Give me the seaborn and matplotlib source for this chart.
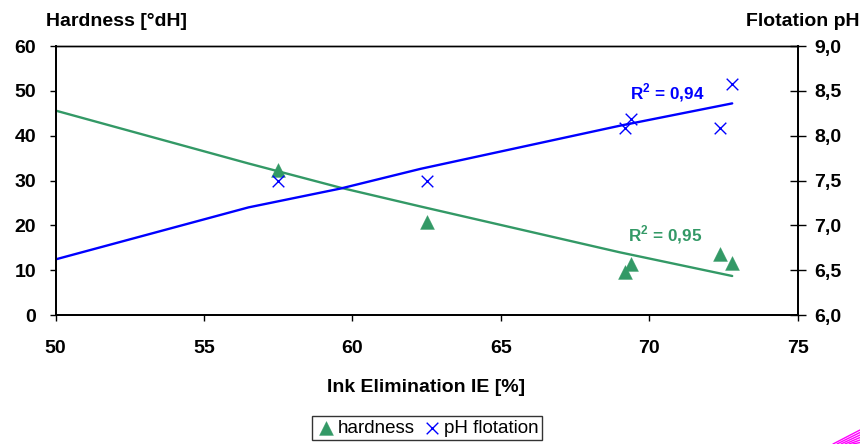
import matplotlib
matplotlib.use("Agg")
import matplotlib.pyplot as plt
import seaborn as sns
import pandas as pd
from matplotlib.ticker import FixedLocator, FixedFormatter
from matplotlib.lines import Line2D

# ---- data ----
ie_points = [57.5, 62.5, 69.2, 69.4, 72.4, 72.8]
hardness = [32.4, 20.7, 9.5, 11.3, 13.7, 11.6]
ie_ph = [57.5, 62.5, 69.2, 69.4, 72.4, 72.8]
ph_flotation = [7.5, 7.5, 8.09, 8.19, 8.09, 8.58]

trend_x = [50.0, 56.5, 59.6, 62.3, 69.0, 72.8]
hardness_trend = [45.6, 33.8, 28.4, 24.2, 14.0, 8.7]
ph_trend = [6.62, 7.20, 7.41, 7.63, 8.11, 8.36]

x_ticks = [50, 55, 60, 65, 70, 75]
left_ticks = [0, 10, 20, 30, 40, 50, 60]
right_ticks = [6.0, 6.5, 7.0, 7.5, 8.0, 8.5, 9.0]
right_labels = ["6,0", "6,5", "7,0", "7,5", "8,0", "8,5", "9,0"]

r2_hardness = "0,95"
r2_ph = "0,94"

GREEN = "#339966"
BLUE = "#0000FF"
FONT = 14

sns.set_theme(style="white")
plt.rcParams["font.family"] = ["Liberation Sans", "DejaVu Sans"]
plt.rcParams["text.color"] = "black"
plt.rcParams["axes.labelcolor"] = "black"
plt.rcParams["xtick.color"] = "black"
plt.rcParams["ytick.color"] = "black"
plt.rcParams["mathtext.fontset"] = "custom"
plt.rcParams["mathtext.rm"] = "Liberation Sans:bold"
plt.rcParams["mathtext.bf"] = "Liberation Sans:bold"

fig = plt.figure(figsize=(8.6, 4.44), dpi=100)
ax = fig.add_axes([55.5 / 860, 1 - 315 / 444, (797.5 - 55.5) / 860, (315 - 46) / 444])
ax2 = ax.twinx()

df_h = pd.DataFrame({"IE": ie_points, "hardness": hardness})
df_p = pd.DataFrame({"IE": ie_ph, "pH": ph_flotation})
df_t = pd.DataFrame({"IE": trend_x, "h": hardness_trend, "p": ph_trend})

sns.lineplot(data=df_t, x="IE", y="h", ax=ax, color=GREEN, linewidth=1.7, legend=False)
sns.scatterplot(data=df_h, x="IE", y="hardness", ax=ax, marker="^", s=100,
                color=GREEN, edgecolor=GREEN, linewidth=0.3, zorder=5, label="hardness")

sns.lineplot(data=df_t, x="IE", y="p", ax=ax2, color=BLUE, linewidth=1.7, legend=False)
sns.scatterplot(data=df_p, x="IE", y="pH", ax=ax2, marker="x", s=70,
                color=BLUE, linewidth=1.0, zorder=5, label="pH flotation")

ax.set_xlim(50, 75)
ax.set_ylim(0, 60)
ax2.set_ylim(6.0, 9.0)

ax.xaxis.set_major_locator(FixedLocator(x_ticks))
ax.yaxis.set_major_locator(FixedLocator(left_ticks))
ax2.yaxis.set_major_locator(FixedLocator(right_ticks))
ax2.yaxis.set_major_formatter(FixedFormatter(right_labels))

for a in (ax, ax2):
    for s in a.spines.values():
        s.set_color("black")
        s.set_linewidth(1.3)
ax2.spines["top"].set_linewidth(1.0)
ax.spines["top"].set_linewidth(1.0)

ax.tick_params(axis="x", direction="out", length=4, width=1, colors="black",
               labelsize=FONT, pad=14, bottom=True, top=False)
ax.tick_params(axis="y", direction="out", length=4.5, width=1, colors="black",
               labelsize=FONT, pad=9.5, left=True)
ax2.tick_params(axis="y", direction="inout", length=11, width=1, colors="black",
                labelsize=FONT, pad=6.5, right=True)
for lab in ax.get_xticklabels() + ax.get_yticklabels() + ax2.get_yticklabels():
    lab.set_fontweight("bold")

ax.set_xlabel("Ink Elimination IE [%]", fontsize=FONT, fontweight="bold", labelpad=16)
ax.set_ylabel("")
ax2.set_ylabel("")

fig.text(46 / 860, 1 - 21 / 444, "Hardness [°dH]", fontsize=FONT, fontweight="bold",
         ha="left", va="center")
fig.text(859 / 860, 1 - 21 / 444, "Flotation pH", fontsize=FONT, fontweight="bold",
         ha="right", va="center")

ax2.text(70.6, 8.48, "R$^{2}$ = " + r2_ph, color=BLUE, fontsize=12.3,
         fontweight="bold", ha="center", va="center")
ax.text(70.55, 18.0, "R$^{2}$ = " + r2_hardness, color=GREEN, fontsize=12.3,
        fontweight="bold", ha="center", va="center")

h1, l1 = ax.get_legend_handles_labels()
h2, l2 = ax2.get_legend_handles_labels()
if ax2.get_legend():
    ax2.get_legend().remove()
if ax.get_legend():
    ax.get_legend().remove()
leg = fig.legend(h1 + h2, l1 + l2, loc="center", bbox_to_anchor=(427 / 860, 1 - 428 / 444),
                 ncol=2, frameon=True, fancybox=False, edgecolor="black", fontsize=13.5,
                 handletextpad=0.05, columnspacing=0.4, borderpad=0.2, handlelength=1.1,
                 borderaxespad=0)
leg.get_frame().set_linewidth(1.0)

# small magenta decoration in the bottom-right corner
for i in range(6):
    fig.add_artist(Line2D([(833 + i * 4) / 860, 1.0], [0.0, (14 - i * 2.5) / 444],
                          transform=fig.transFigure, color="#FF00FF", linewidth=1.0))

fig.savefig("out.png", dpi=100)
